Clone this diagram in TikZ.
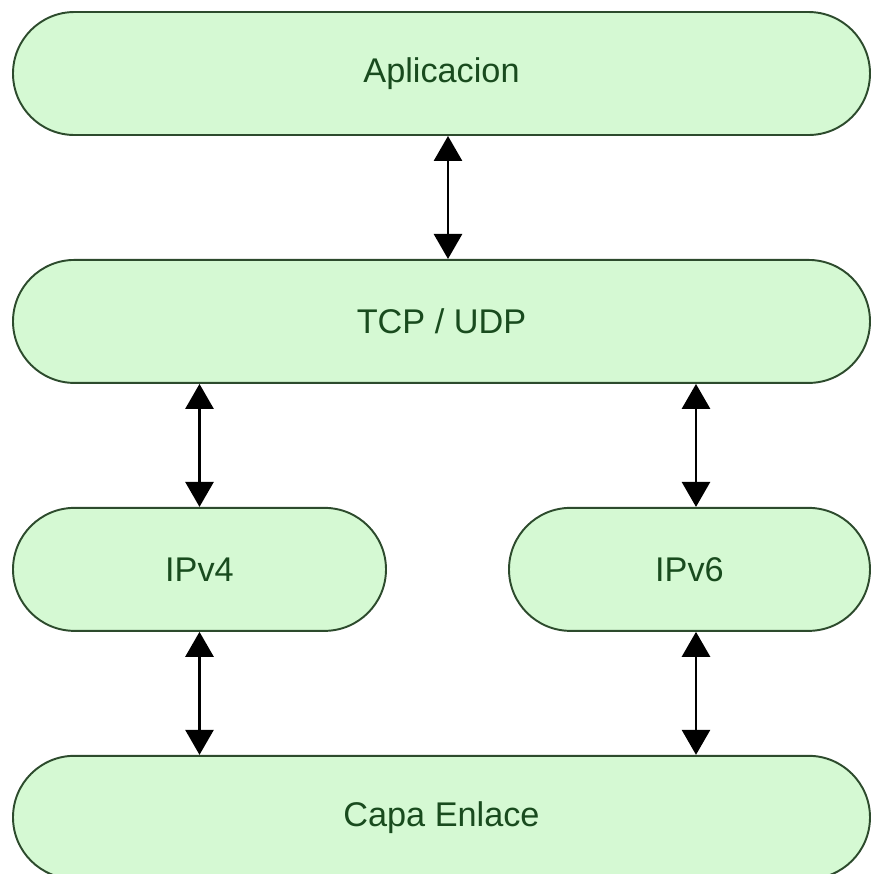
\documentclass[tikz,border=0pt]{standalone}
\usepackage{fontspec}
\setmainfont{Liberation Sans}
\usetikzlibrary{positioning, arrows.meta, calc}
\definecolor{layerfill}{RGB}{213,249,211}
\definecolor{layerdraw}{RGB}{45,75,45}
\definecolor{layertext}{RGB}{25,75,30}

\begin{document}
\begin{tikzpicture}[
         node distance=2.46cm,
         layer/.style={draw=layerdraw, line width=1.1pt, fill=layerfill, text=layertext,
            rounded corners=1.23cm, minimum height=2.46cm, inner sep=0pt,
            font=\fontsize{19.5}{23}\selectfont},
         wide/.style={layer, minimum width=17.14cm},
         link/.style={line width=1.6pt, {Triangle[width=0.56cm,length=0.5cm]}-{Triangle[width=0.56cm,length=0.5cm]}}
      ]
         \useasboundingbox (0,0) rectangle (17.44,-17.48);
         % Nodes for layers
         \node[wide] (app) at (8.83,-1.47) {Aplicacion};
         \node[wide] (tcp) [below=of app] {TCP / UDP};
         \node[layer, minimum width=7.46cm] (ipv4) [below=of tcp.south west, anchor=north west] {IPv4};
         \node[layer, minimum width=7.22cm] (ipv6) [below=of tcp.south east, anchor=north east] {IPv6};
         \node[wide] (capa) [below=of ipv4.south west, anchor=north west] {Capa Enlace};

         % Arrows between layers
         \draw[link] ([xshift=0.13cm]app.south) -- ([xshift=0.13cm]tcp.north);
         \draw[link] (tcp.south -| ipv4.north) -- (ipv4.north);
         \draw[link] ([xshift=0.13cm]tcp.south -| ipv6.north) -- ([xshift=0.13cm]ipv6.north);
         \draw[link] (ipv4.south) -- (ipv4.south |- capa.north);
         \draw[link] ([xshift=0.13cm]ipv6.south) -- ([xshift=0.13cm]ipv6.south |- capa.north);
      \end{tikzpicture}
\end{document}
